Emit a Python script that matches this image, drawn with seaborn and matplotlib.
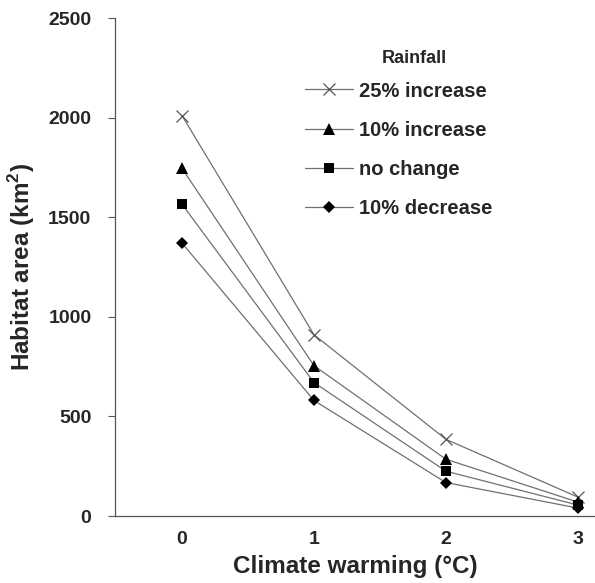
import matplotlib
matplotlib.use("Agg")
import matplotlib.pyplot as plt
import seaborn as sns
import pandas as pd

# --- data ---
warming = [0, 1, 2, 3]
scenarios = ["25% increase", "10% increase", "no change", "10% decrease"]
area_25_inc = [2010, 910, 385, 95]
area_10_inc = [1745, 755, 285, 70]
area_no_change = [1565, 670, 225, 55]
area_10_dec = [1370, 580, 168, 40]

# --- style ---
sns.set_theme(style="white")
plt.rcParams["font.family"] = ["Liberation Sans", "DejaVu Sans"]
plt.rcParams["font.weight"] = "bold"
plt.rcParams["mathtext.fontset"] = "custom"
plt.rcParams["mathtext.rm"] = "Liberation Sans:bold"
plt.rcParams["mathtext.bf"] = "Liberation Sans:bold"

df = pd.DataFrame({
    "warming": warming * 4,
    "area": area_25_inc + area_10_inc + area_no_change + area_10_dec,
    "rain": [s for s in scenarios for _ in warming],
})

marker_style = {
    "25% increase": dict(marker="x", markersize=9, markeredgewidth=0.9,
                         markeredgecolor="#555555", markerfacecolor="#555555"),
    "10% increase": dict(marker="^", markersize=8.5, markeredgewidth=0,
                         markerfacecolor="black"),
    "no change": dict(marker="s", markersize=7, markeredgewidth=0,
                      markerfacecolor="black"),
    "10% decrease": dict(marker="D", markersize=6.5, markeredgewidth=0,
                         markerfacecolor="black"),
}

fig = plt.figure(figsize=(5.95, 5.83), dpi=100)
ax = fig.add_axes([0.1933, 0.1149, 0.8067, 0.8542])

for name in scenarios:
    sub = df[df["rain"] == name]
    sns.lineplot(data=sub, x="warming", y="area", ax=ax, label=name,
                 color="#707070", linewidth=0.9, **marker_style[name])

ax.set_xlim(-0.508, 3.13)
ax.set_ylim(0, 2500)
ax.set_xticks(warming)
ax.set_yticks([0, 500, 1000, 1500, 2000, 2500])

ax.set_xlabel("Climate warming (°C)", fontsize=17.5, fontweight="bold", labelpad=5)
ax.set_ylabel("Habitat area (km$^{2}$)", fontsize=17.5, fontweight="bold", labelpad=8)

ax.tick_params(axis="y", direction="out", length=5, width=0.8, color="#555555",
               pad=12, labelsize=14, left=True)
ax.tick_params(axis="x", length=0, pad=11, labelsize=14)
for lab in ax.get_xticklabels() + ax.get_yticklabels():
    lab.set_fontweight("bold")

sns.despine(ax=ax)
for sp in ("left", "bottom"):
    ax.spines[sp].set_color("#555555")
    ax.spines[sp].set_linewidth(0.9)

leg = ax.legend(title="Rainfall", frameon=False, loc="upper left",
                bbox_to_anchor=(0.395, 0.947), borderaxespad=0, borderpad=0,
                fontsize=14.5, title_fontsize=13, handlelength=2.4,
                handletextpad=0.3, labelspacing=1.0)
leg.get_title().set_fontweight("bold")
# title sits a bit right of centre and closer to the entries in the reference
leg.get_title().set_position((16, -6))
for t in leg.get_texts():
    t.set_fontweight("bold")

fig.savefig("out.png", dpi=100)
